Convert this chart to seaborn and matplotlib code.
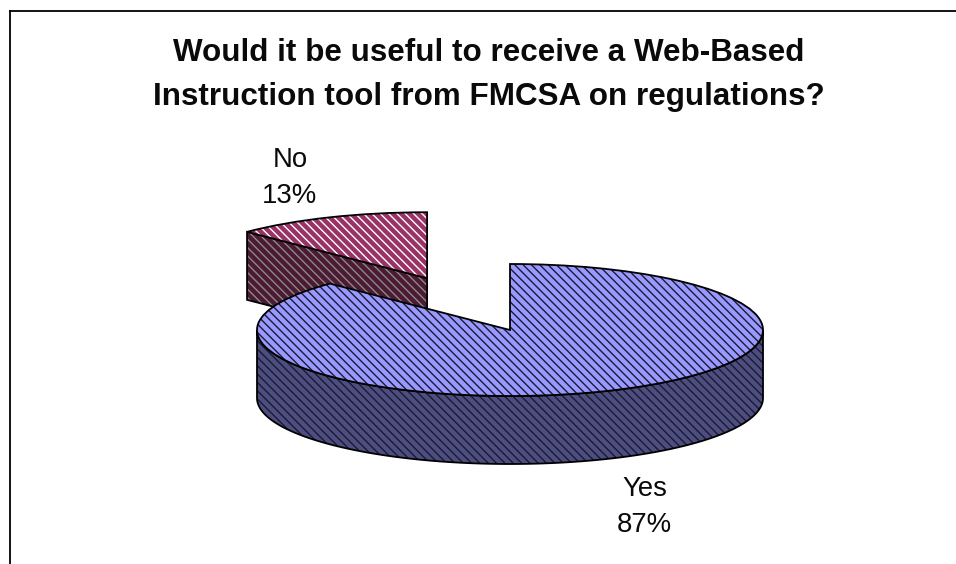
import numpy as np
import seaborn as sns
import matplotlib
matplotlib.use('Agg')
import matplotlib.pyplot as plt
from matplotlib.patches import Wedge, Polygon

categories = ['Yes', 'No']
shares = [87.4, 12.6]
title = 'Would it be useful to receive a Web-Based\nInstruction tool from FMCSA on regulations?'

top_colors = ['#9999FF', '#993366']
side_colors = ['#4D4D80', '#4D1A33']
top_hatch = ['#1A1A33', '#FFFFFF']
side_hatch = ['#1A1A33', '#8A8A8A']

sns.set_theme(style='white')
plt.rcParams['font.family'] = ['Liberation Sans', 'DejaVu Sans']
plt.rcParams['hatch.linewidth'] = 1.0

W, H = 956, 564
cx, cy, rx, ry, depth = 510, 330, 253, 66, 68 / 66
hatch = '\\' * 4

fig = plt.figure(figsize=(W / 100, H / 100), dpi=100)
ax = fig.add_axes([10 / W, 0, (W - 10) / W, (H - 11) / H])

wedges, _ = ax.pie(shares, explode=[0, 0.85], startangle=90, counterclock=False,
                   colors=top_colors, radius=1,
                   wedgeprops=dict(linewidth=0, hatch=hatch))
ax.set_aspect('auto')
ax.set_xlim((10 - cx) / rx, (W - cx) / rx)
ax.set_ylim((cy - H) / ry, (cy - 11) / ry)

ax.set_frame_on(True)
for side in ['right', 'bottom']:
    ax.spines[side].set_visible(False)
for side in ['left', 'top']:
    ax.spines[side].set_visible(True)
    ax.spines[side].set_color('black')
    ax.spines[side].set_linewidth(1.3)


def wall(points, i, z):
    ax.add_patch(Polygon(points, closed=True, facecolor=side_colors[i],
                         edgecolor=side_hatch[i], linewidth=0,
                         hatch=hatch, zorder=z))
    ax.add_patch(Polygon(points, closed=True, fill=False,
                         edgecolor='black', linewidth=1.3, zorder=z + 0.1))


for i, w in enumerate(wedges):
    z = 2 if i == 1 else 4
    x0, y0 = w.center
    if i == 0:
        # front rim of the big slice
        t = np.radians(np.linspace(180, 360, 120))
        ex, ey = x0 + np.cos(t), y0 + np.sin(t)
    else:
        # cut face of the pulled out slice
        a = np.radians(max(w.theta1, w.theta2))
        ex = np.array([x0 + np.cos(a), x0])
        ey = np.array([y0 + np.sin(a), y0])
    pts = np.r_[np.c_[ex, ey], np.c_[ex, ey - depth][::-1]]
    wall(pts, i, z)

    w.set_edgecolor(top_hatch[i])
    w.set_linewidth(0)
    w.set_zorder(z + 0.2)
    ax.add_patch(Wedge(w.center, w.r, w.theta1, w.theta2, fill=False,
                       edgecolor='black', linewidth=1.3, zorder=z + 0.3))

ink = '#0A0A0A'
fig.text(488.5 / W, 1 - 105 / H, title, ha='center', va='baseline',
         fontsize=22.6, fontweight='bold', color=ink, linespacing=1.6, multialignment='center')
fig.text(290 / W, 1 - 203 / H, f'{categories[1]}\n{shares[1]:.0f}%', ha='center', va='baseline',
         fontsize=19.8, color=ink, linespacing=1.48)
fig.text(644.5 / W, 1 - 532 / H, f'{categories[0]}\n{shares[0]:.0f}%', ha='center', va='baseline',
         fontsize=19.8, color=ink, linespacing=1.48)

fig.savefig('out.png', dpi=100, facecolor='white')
